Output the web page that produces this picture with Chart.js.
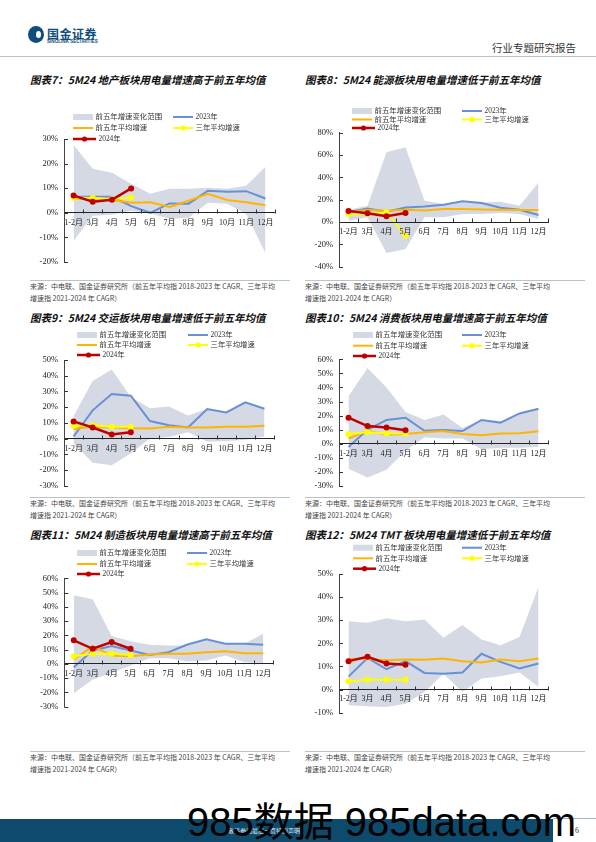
<!DOCTYPE html>
<html lang="zh-CN">
<head>
<meta charset="UTF-8">
<title>行业专题研究报告</title>
<script src="https://cdn.jsdelivr.net/npm/chart.js"></script>
<style>
  body { margin:0; width:596px; height:842px; position:relative; overflow:hidden; background:#fff;
         font-family:"Liberation Serif","Noto Sans CJK SC",serif; }
  .abs { position:absolute; }
  .title { font-family:"Noto Sans CJK SC",sans-serif; font-weight:bold; font-style:italic; font-size:10.5px;
           line-height:14px; color:#111; white-space:nowrap; }
  .src { font-family:"Noto Sans CJK SC",sans-serif; font-size:7px; line-height:12px; color:#444; white-space:nowrap; }
  .rule { height:1px; background:#b9c3cc; }
  canvas { position:absolute; }
</style>
</head>
<body>
  <!-- header -->
  <div class="abs" style="left:28px;top:26px;width:16px;height:17px;border-radius:50%;background:#0f4d7c;"></div>
  <div class="abs" style="left:36px;top:31px;width:5px;height:7px;border-radius:50%;background:#fff;"></div>
  <div class="abs" style="left:47px;top:25px;font:bold 12px 'Noto Sans CJK SC';color:#0f4d7c;letter-spacing:0.5px;">国金证券</div>
  <div class="abs" style="left:47px;top:39px;font:bold 4.6px 'Liberation Sans';color:#0f4d7c;">SINOLINK SECURITIES</div>
  <div class="abs" style="left:492px;top:40px;font:10.5px 'Noto Sans CJK SC';color:#333;">行业专题研究报告</div>
  <div class="abs rule" style="left:0;top:56px;width:596px;"></div>

  <!-- titles -->
  <div class="abs title" style="left:30px;top:73px;">图表7：5M24 地产板块用电量增速高于前五年均值</div>
  <div class="abs title" style="left:305px;top:73px;">图表8：5M24 能源板块用电量增速低于前五年均值</div>
  <div class="abs title" style="left:30px;top:311px;">图表9：5M24 交运板块用电量增速低于前五年均值</div>
  <div class="abs title" style="left:305px;top:311px;">图表10：5M24 消费板块用电量增速高于前五年均值</div>
  <div class="abs title" style="left:30px;top:528px;">图表11：5M24 制造板块用电量增速高于前五年均值</div>
  <div class="abs title" style="left:305px;top:528px;">图表12：5M24 TMT 板块用电量增速低于前五年均值</div>

  <canvas id="c7"></canvas>
  <canvas id="c8"></canvas>
  <canvas id="c9"></canvas>
  <canvas id="c10"></canvas>
  <canvas id="c11"></canvas>
  <canvas id="c12"></canvas>

  <!-- sources -->
  <div class="abs rule" style="left:30px;top:280px;width:260px;"></div>
  <div class="abs rule" style="left:305px;top:280px;width:280px;"></div>
  <div class="abs src" style="left:30px;top:280px;">来源：中电联、国金证券研究所（前五年平均指 2018-2023 年 CAGR、三年平均<br>增速指 2021-2024 年 CAGR）</div>
  <div class="abs src" style="left:305px;top:280px;">来源：中电联、国金证券研究所（前五年平均指 2018-2023 年 CAGR、三年平均<br>增速指 2021-2024 年 CAGR）</div>
  <div class="abs rule" style="left:30px;top:497px;width:260px;"></div>
  <div class="abs rule" style="left:305px;top:497px;width:280px;"></div>
  <div class="abs src" style="left:30px;top:497px;">来源：中电联、国金证券研究所（前五年平均指 2018-2023 年 CAGR、三年平均<br>增速指 2021-2024 年 CAGR）</div>
  <div class="abs src" style="left:305px;top:497px;">来源：中电联、国金证券研究所（前五年平均指 2018-2023 年 CAGR、三年平均<br>增速指 2021-2024 年 CAGR）</div>
  <div class="abs rule" style="left:30px;top:751px;width:260px;"></div>
  <div class="abs rule" style="left:305px;top:751px;width:280px;"></div>
  <div class="abs src" style="left:30px;top:751px;">来源：中电联、国金证券研究所（前五年平均指 2018-2023 年 CAGR、三年平均<br>增速指 2021-2024 年 CAGR）</div>
  <div class="abs src" style="left:305px;top:751px;">来源：中电联、国金证券研究所（前五年平均指 2018-2023 年 CAGR、三年平均<br>增速指 2021-2024 年 CAGR）</div>

  <!-- footer -->
  <div class="abs" style="left:0;top:819px;width:553px;height:23px;background:#0d4a6c;"></div>
  <div class="abs" style="left:553px;top:818px;width:43px;height:1px;background:#9fb3c2;"></div>
  <div class="abs" style="left:228px;top:826px;font:6px 'Noto Sans CJK SC';color:#dfe8ee;">敬请参阅最后一页特别声明</div>
  <div class="abs" style="left:575px;top:826px;font:8px 'Liberation Serif';color:#333;">6</div>
  <div class="abs" style="left:187px;top:790px;font:40px 'Liberation Sans','Noto Sans CJK SC';color:#000;white-space:nowrap;">985数据 985data.com</div>

<script>
  const months = ['1-2月', '3月', '4月', '5月', '6月', '7月', '8月', '9月', '10月', '11月', '12月'];
  const names = ['前五年增速变化范围', '2023年', '前五年平均增速', '三年平均增速', '2024年'];

  // 地产
  const reMax  = [27.6, 17.9, 16.3, 11.8, 7.7, 9.8, 9.8, 10.2, 9.8, 11, 18.7];
  const reMin  = [-11.4, -1.2, -0.8, 0.8, -0.3, -2.4, -2, 4.1, 3.7, -0.5, -16.3];
  const re2023 = [6.5, 6.5, 6.5, 2.7, 0, 3.8, 3.7, 9, 8.6, 8.8, 5.8];
  const reAvg5 = [5.8, 5.5, 5.2, 4.1, 4.3, 2.4, 4.9, 7.7, 5.2, 4.3, 3.1];
  const reAvg3 = [6.1, 6, 5.6, 6.2];
  const re2024 = [7, 4.5, 5.3, 9.9];
  const reAxis = [-20, 30, 10];

  // 能源
  const enMax  = [11, 14.6, 62.4, 66.9, 19.1, 16.1, 17.6, 17.6, 18.2, 14.6, 35.5];
  const enMin  = [1.2, 4.2, -27.8, -24.2, 4.2, 4.2, 7.2, 7.2, 8, 7.2, 2.7];
  const en2023 = [8.7, 12.2, 9.3, 13.1, 14, 15.5, 18.5, 17, 12.8, 11, 6.3];
  const enAvg5 = [8.7, 10.7, 10.1, 11, 10.4, 11.6, 11.6, 11.3, 11, 10.7, 10.7];
  const enAvg3 = [7.2, 7.2, 8.7, -12.2];
  const en2024 = [9.9, 7.8, 5.1, 8.1];
  const enAxis = [-40, 80, 20];

  // 交运
  const trMax  = [14.3, 36.7, 43.9, 26.5, 19.4, 20.4, 14.7, 18.8, 17, 23.1, 19];
  const trMin  = [-3, -15.3, -16.9, -9.2, 0, 1, 4.1, -2, -1.4, -0.6, 1.4];
  const tr2023 = [1.4, 18, 28.4, 27.3, 11.2, 8.6, 7.1, 18.8, 16.7, 23.1, 19];
  const trAvg5 = [6.1, 7.6, 7.1, 6.7, 6.5, 7.6, 7.1, 7.1, 7.6, 7.6, 8.2];
  const trAvg3 = [8.2, 8.6, 7.6, 7.6];
  const tr2024 = [11, 7.1, 2.7, 4.1];
  const trAxis = [-30, 50, 10];

  // 消费
  const coMax  = [33.7, 53.8, 40, 22.6, 16.9, 20.8, 11.1, 17, 15, 21.5, 25];
  const coMin  = [-17.8, -24, -18.5, -5, 4.6, 3.7, 3.7, -3.9, -2.8, -2.8, -2.3];
  const co2023 = [-2.3, 9.9, 16.9, 18.5, 9.2, 9.7, 9, 16.9, 15, 21.5, 24.9];
  const coAvg5 = [3.7, 9.2, 6.5, 6.9, 8.1, 9, 6.9, 6, 7.2, 7.4, 8.8];
  const coAvg3 = [6.9, 8.1, 7.4, 7.2];
  const co2024 = [18.5, 12.5, 11.5, 9.5];
  const coAxis = [-30, 60, 10];

  // 制造
  const mfMax  = [48.2, 45.4, 19.5, 15.8, 13.4, 12.9, 12.9, 17.2, 14.1, 14.1, 21.2];
  const mfMin  = [-20.5, -11, -6.4, -1.2, 4, 4, 1.6, 2.3, 5.9, 1.2, 0.7];
  const mf2023 = [-2.3, 9.4, 12.5, 9.4, 6.3, 8.2, 13.6, 17.2, 14.1, 14.1, 13.4];
  const mfAvg5 = [3, 12.5, 5.9, 5.4, 6.6, 7.1, 7.1, 8.2, 8.9, 7.5, 7.5];
  const mfAvg3 = [5.4, 7.1, 7.1, 6.3];
  const mf2024 = [16.5, 10.6, 15.3, 10.6];
  const mfAxis = [-30, 60, 10];

  // TMT
  const tmtMax  = [29.6, 28.9, 30.9, 29.6, 30.3, 22.4, 27.9, 21.7, 19.2, 22.8, 44.5];
  const tmtMin  = [-6.8, -7.2, -7.5, -6.1, -1, 6.9, -1, 4.8, 5.8, 7.4, 1.2];
  const tmt2023 = [5.6, 13.7, 8.8, 12.3, 7.2, 6.8, 7.4, 15.5, 12, 9.1, 11.3];
  const tmtAvg5 = [13.3, 13.2, 12.7, 13, 12.9, 13.4, 12.3, 11.7, 13, 12.3, 13.4];
  const tmtAvg3 = [3.6, 4.3, 4.2, 4.3];
  const tmt2024 = [12.3, 14.2, 11.3, 10.7];
  const tmtAxis = [-10, 50, 10];

  const BAND = '#d4d9e3', BLUE = '#6890d4', ORANGE = '#ffb400', YELLOW = '#ffff00', RED = '#c00000';

  Chart.defaults.font.family = '"Liberation Serif", "Noto Sans CJK SC", serif';
  Chart.defaults.color = '#222';

  // legend laid out in a fixed two-column grid, like the report
  const gridLegend = {
    id: 'gridLegend',
    afterDraw(chart, args, opts) {
      const ctx = chart.ctx;
      ctx.save();
      ctx.font = '7.4px "Liberation Serif", "Noto Sans CJK SC"';
      ctx.textBaseline = 'middle';
      chart.data.datasets.forEach(ds => {
        if (!ds.slot) return;
        const x = opts.cols[ds.slot[0]], y = opts.rows[ds.slot[1]];
        const w = ds.slot[1] === 2 ? 23 : 20;
        if (ds.fill) {
          ctx.fillStyle = ds.backgroundColor;
          ctx.fillRect(x, y - 3, w, 6);
        } else {
          ctx.strokeStyle = ds.borderColor;
          ctx.lineWidth = ds.borderWidth;
          ctx.beginPath(); ctx.moveTo(x, y); ctx.lineTo(x + w, y); ctx.stroke();
          if (ds.pointRadius) {
            ctx.fillStyle = ds.borderColor;
            ctx.beginPath(); ctx.arc(x + w / 2, y, 2.6, 0, Math.PI * 2); ctx.fill();
          }
        }
        ctx.fillStyle = '#333';
        ctx.fillText(ds.label, x + w + 2.5, y + 0.5);
      });
      ctx.restore();
    }
  };

  // small tick marks drawn inside the axes
  const innerTicks = {
    id: 'innerTicks',
    afterDraw(chart) {
      const { ctx, scales: { x, y } } = chart;
      const y0 = Math.round(y.getPixelForValue(0)) + 0.5;
      const n = x.getLabels().length;
      ctx.save();
      ctx.strokeStyle = '#333';
      ctx.lineWidth = 1;
      ctx.beginPath();
      y.ticks.forEach(t => {
        const py = Math.round(y.getPixelForValue(t.value)) + 0.5;
        ctx.moveTo(x.left, py); ctx.lineTo(x.left + 4, py);
      });
      for (let i = 1; i <= n; i++) {
        const px = Math.round(x.left + i * x.width / n) + 0.5;
        ctx.moveTo(px, y0); ctx.lineTo(px, y0 - 4);
      }
      ctx.stroke();
      ctx.restore();
    }
  };

  function makeChart(id, box, axis, series, legend) {
    const [mn, mx, y23, a5, a3, y24] = series;
    const cv = document.getElementById(id);
    cv.width = box.w; cv.height = box.h;
    cv.style.left = box.left + 'px'; cv.style.top = box.top + 'px';
    cv.style.width = box.w + 'px'; cv.style.height = box.h + 'px';
    new Chart(cv, {
      type: 'line',
      data: {
        labels: months,
        datasets: [
          { label: 'min', data: mn, borderColor: 'rgba(0,0,0,0)', borderWidth: 0, pointRadius: 0, fill: false, order: 10 },
          { label: names[0], data: mx, borderColor: 'rgba(0,0,0,0)', borderWidth: 0, pointRadius: 0,
            fill: '-1', backgroundColor: BAND, order: 9, slot: [0, 0] },
          { label: names[1], data: y23, borderColor: BLUE, borderWidth: 2, pointRadius: 0, order: 4, slot: [1, 0] },
          { label: names[2], data: a5, borderColor: ORANGE, borderWidth: 2, pointRadius: 0, order: 3, slot: [0, 1] },
          { label: names[3], data: a3, borderColor: YELLOW, borderWidth: 2, pointRadius: 3, pointBorderWidth: 0,
            pointBackgroundColor: YELLOW, order: 2, slot: [1, 1] },
          { label: names[4], data: y24, borderColor: RED, borderWidth: 2.5, pointRadius: 3, pointBorderWidth: 0,
            pointBackgroundColor: RED, order: 1, slot: [0, 2] }
        ]
      },
      options: {
        responsive: false,
        animation: false,
        devicePixelRatio: 1,
        layout: { padding: { left: 0, right: box.w - (box.plotRight - box.left), top: box.plotTop - box.top,
                             bottom: box.top + box.h - box.plotBottom } },
        elements: { line: { tension: 0 } },
        plugins: {
          legend: { display: false },
          tooltip: { enabled: false },
          gridLegend: {
            cols: legend.cols.map(c => c - box.left),
            rows: legend.rows.map(r => r - box.top)
          }
        },
        scales: {
          x: {
            type: 'category', offset: true, position: { y: 0 },
            grid: { display: false, drawTicks: false },
            border: { color: '#222', width: 1, z: 1 },
            ticks: { z: 1, padding: 5, maxRotation: 0, autoSkip: false, font: { size: 8 } },
            afterFit(s) { s.height = 0; }
          },
          y: {
            min: axis[0], max: axis[1],
            grid: { display: false, drawTicks: false },
            border: { color: '#444', width: 1, z: 1 },
            ticks: { z: 1, stepSize: axis[2], padding: 6, font: { size: 8.5 }, callback: v => v + '%' },
            afterFit(s) { s.width = box.plotLeft - box.left; }
          }
        }
      },
      plugins: [gridLegend, innerTicks]
    });
  }

  makeChart('c7',
    { left: 20, top: 100, w: 265, h: 180, plotLeft: 64, plotRight: 275, plotTop: 139, plotBottom: 262 },
    reAxis, [reMin, reMax, re2023, reAvg5, reAvg3, re2024],
    { cols: [73, 173], rows: [117, 128, 139] });
  makeChart('c8',
    { left: 295, top: 100, w: 265, h: 180, plotLeft: 339, plotRight: 548, plotTop: 132.7, plotBottom: 266.7 },
    enAxis, [enMin, enMax, en2023, enAvg5, enAvg3, en2024],
    { cols: [352, 462], rows: [111, 119.5, 128] });
  makeChart('c9',
    { left: 20, top: 325, w: 265, h: 172, plotLeft: 64, plotRight: 274, plotTop: 360, plotBottom: 491.7 },
    trAxis, [trMin, trMax, tr2023, trAvg5, trAvg3, tr2024],
    { cols: [77, 188], rows: [335, 345, 355] });
  makeChart('c10',
    { left: 295, top: 325, w: 265, h: 172, plotLeft: 339, plotRight: 548, plotTop: 359.3, plotBottom: 489.3 },
    coAxis, [coMin, coMax, co2023, coAvg5, coAvg3, co2024],
    { cols: [353, 462], rows: [335, 345.7, 356] });
  makeChart('c11',
    { left: 20, top: 540, w: 265, h: 182, plotLeft: 64.3, plotRight: 272.7, plotTop: 578.3, plotBottom: 706.7 },
    mfAxis, [mfMin, mfMax, mf2023, mfAvg5, mfAvg3, mf2024],
    { cols: [77, 187], rows: [553, 564, 574] });
  makeChart('c12',
    { left: 295, top: 540, w: 265, h: 185, plotLeft: 339, plotRight: 548, plotTop: 574, plotBottom: 712.7 },
    tmtAxis, [tmtMin, tmtMax, tmt2023, tmtAvg5, tmtAvg3, tmt2024],
    { cols: [353, 462], rows: [547.7, 558.3, 568.7] });
</script>
</body>
</html>
